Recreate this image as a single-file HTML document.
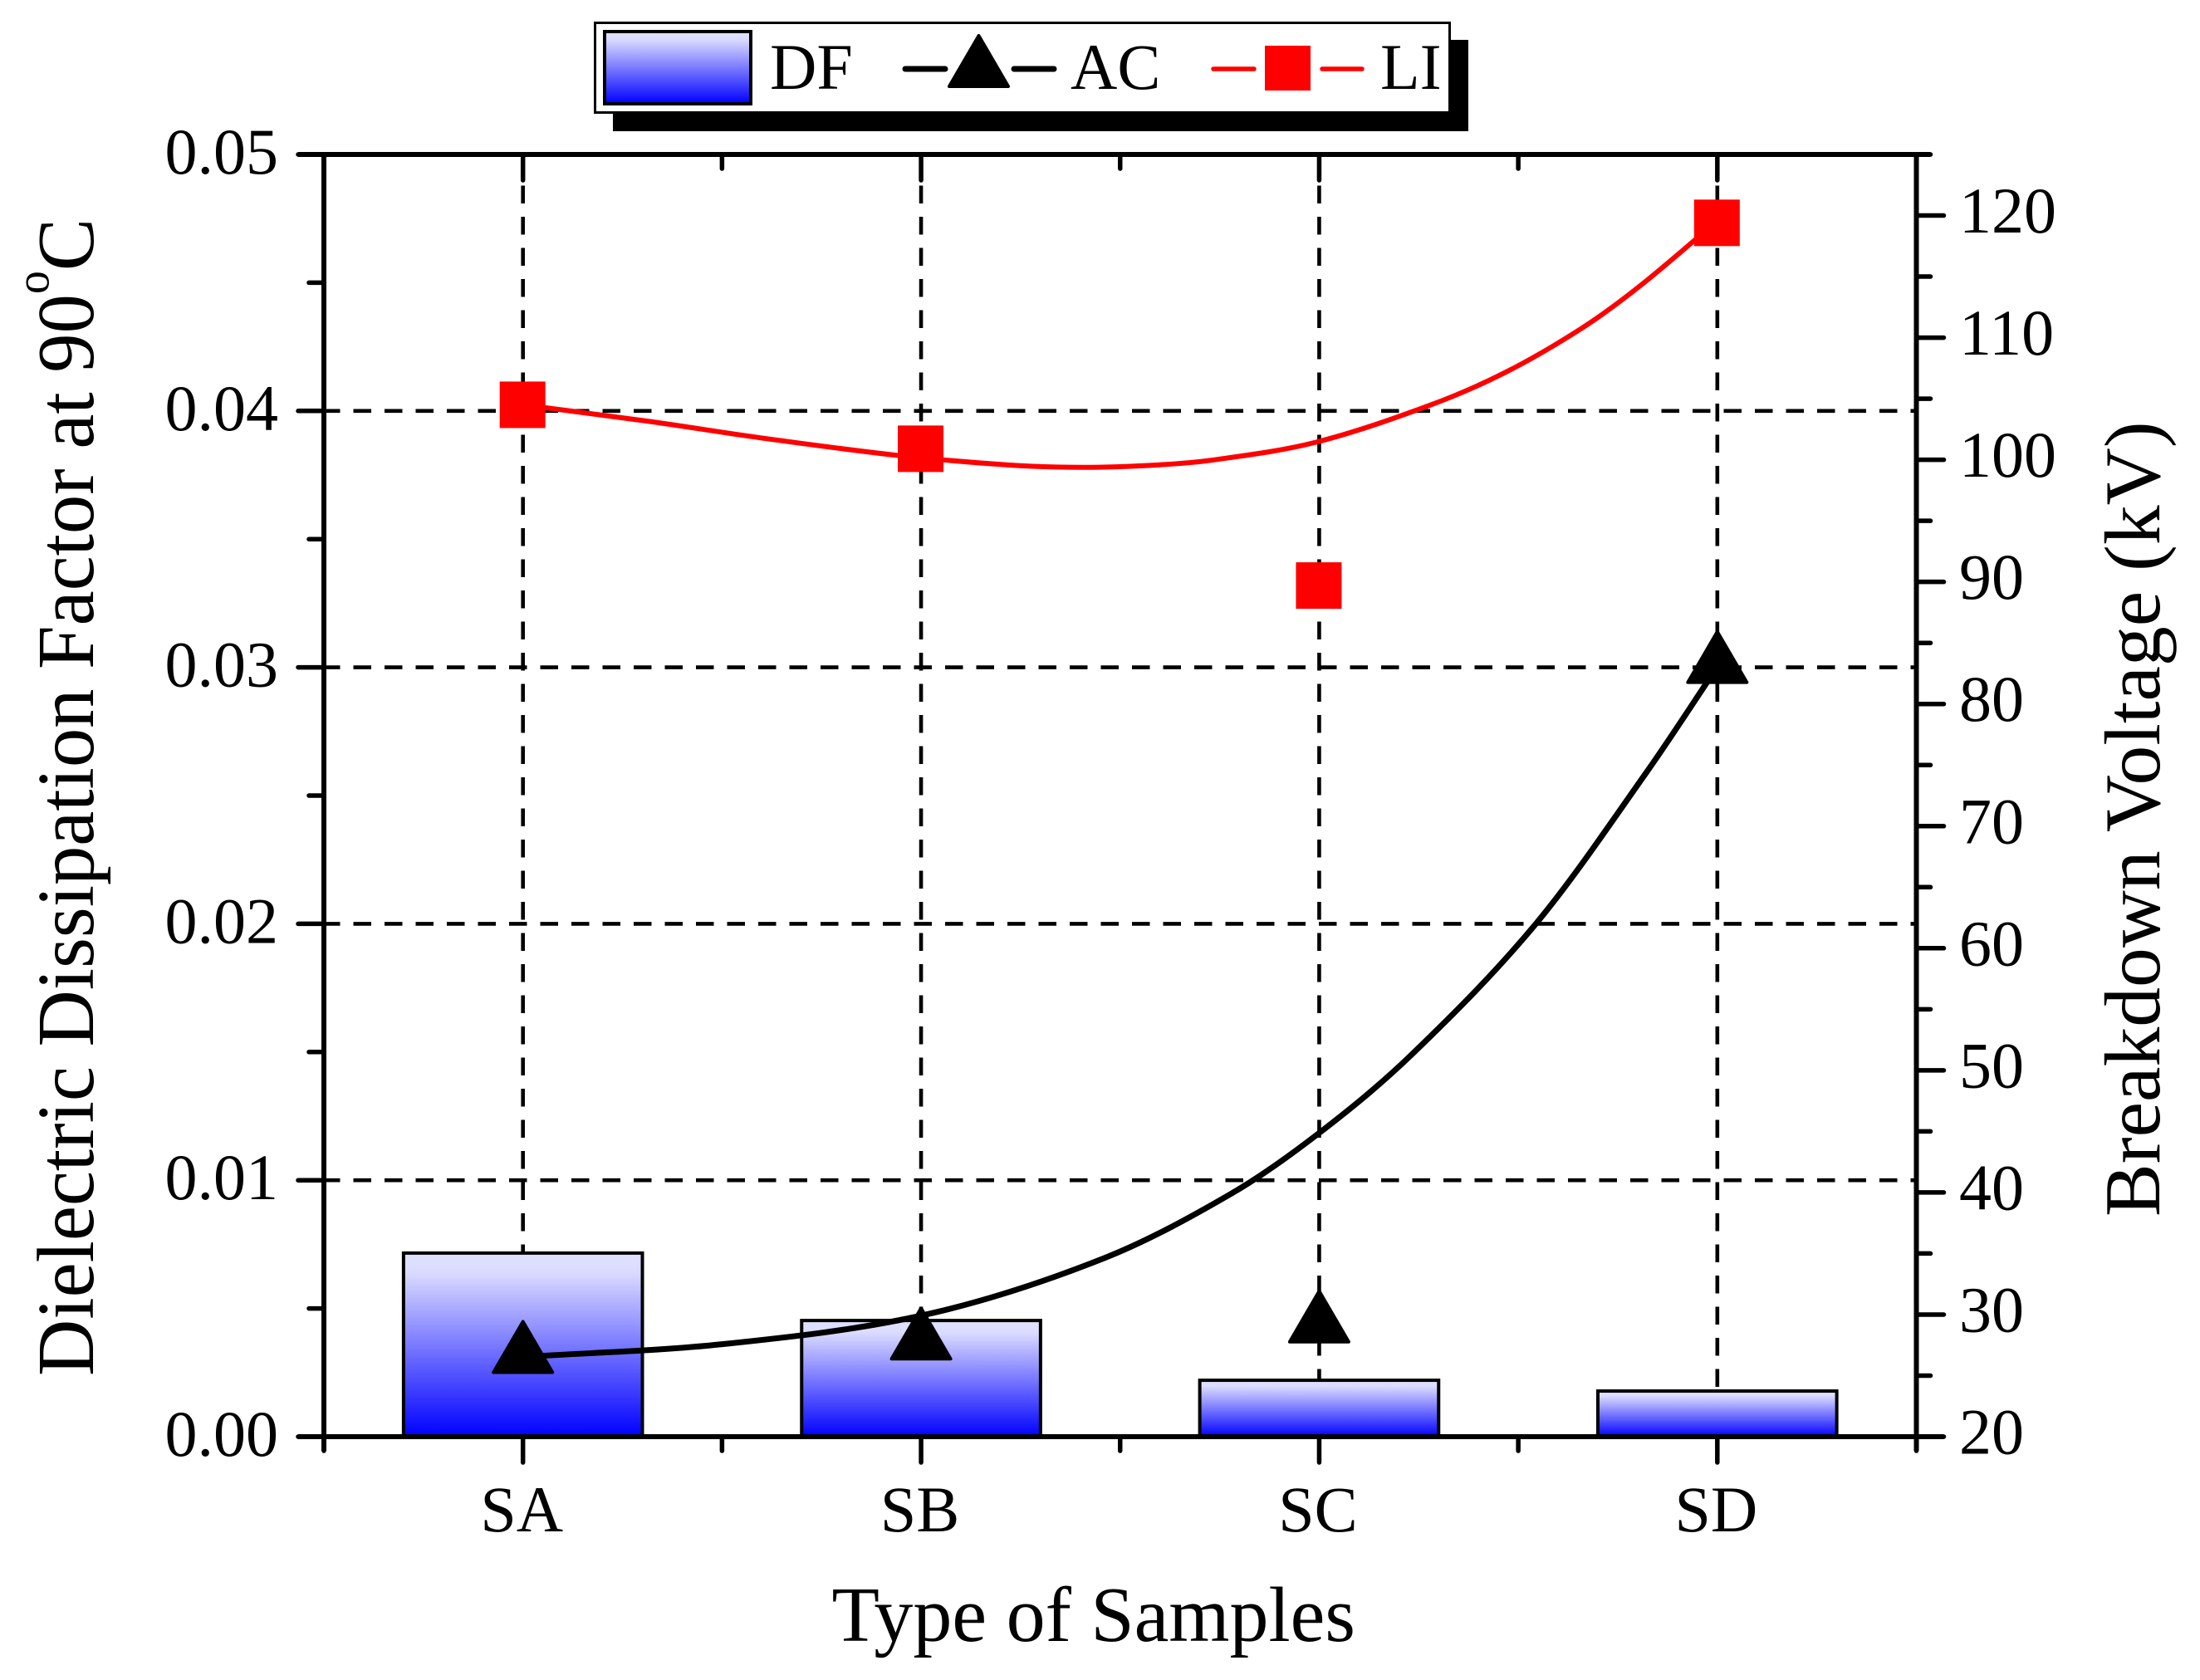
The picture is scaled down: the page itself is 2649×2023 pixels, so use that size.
<!DOCTYPE html>
<html lang="en">
<head>
<meta charset="utf-8">
<title>Dielectric Dissipation Factor and Breakdown Voltage by Sample Type</title>
<style>
html,body{margin:0;padding:0;background:#fff}
svg{display:block}
text{font-family:"Liberation Serif","Times New Roman",serif;fill:#000}
</style>
</head>
<body>
<svg id="chart" xmlns="http://www.w3.org/2000/svg" width="2649" height="2023" viewBox="0 0 2649 2023">
  <defs>
    <linearGradient id="barFill" x1="0" y1="0" x2="0" y2="1">
      <stop offset="0" stop-color="#e0e0ff"/>
      <stop offset="0.1" stop-color="#dcdcff"/>
      <stop offset="1" stop-color="#0000ff"/>
    </linearGradient>
  </defs>
  <rect x="0" y="0" width="2649" height="2023" fill="#fff"/>
  <g id="grid"></g>
  <g id="bars"></g>
  <g id="axes"></g>
  <g id="lines"></g>
  <g id="markers"></g>
  <g id="labels"></g>

  <text x="1001.5" y="1976" font-size="94">Type of Samples</text>
  <text transform="translate(112 1657) rotate(-90) scale(1 1.03)" font-size="94.6">Dielectric Dissipation Factor at 90<tspan dy="-52" font-size="56">o</tspan><tspan dy="52">C</tspan></text>
  <text transform="translate(2600 1465) rotate(-90)" font-size="95.6">Breakdown Voltage (kV)</text>

  <g>
    <rect x="738" y="48" width="1030" height="110" fill="#000"/>
    <rect x="716.5" y="27.5" width="1029" height="108" fill="#fff" stroke="#000" stroke-width="3"/>
    <rect x="728" y="38" width="176" height="87" fill="url(#barFill)" stroke="#000" stroke-width="4"/>
    <text x="927" y="107" font-size="78">DF</text>
    <line x1="1090" y1="83" x2="1138" y2="83" stroke="#000" stroke-width="7" stroke-linecap="round"/>
    <line x1="1221" y1="83" x2="1269" y2="83" stroke="#000" stroke-width="7" stroke-linecap="round"/>
    <polygon points="1178.5,43 1214,104 1143,104" fill="#000" stroke="#000" stroke-width="4" stroke-linejoin="round"/>
    <text x="1289" y="107" font-size="78">AC</text>
    <line x1="1461" y1="83" x2="1510" y2="83" stroke="#f00" stroke-width="5.5" stroke-linecap="round"/>
    <line x1="1592" y1="83" x2="1640" y2="83" stroke="#f00" stroke-width="5.5" stroke-linecap="round"/>
    <rect x="1523" y="55" width="55" height="54" fill="#f00"/>
    <text x="1662" y="107" font-size="78">LI</text>
  </g>
</svg>
<script>
// ---- data ----
const categories = ['SA', 'SB', 'SC', 'SD'];
const dfValues = [0.00716, 0.00453, 0.0022, 0.00178];
const acValues = [26.7, 27.8, 29.2, 83.2];
const liValues = [104.5, 100.9, 89.7, 119.4];
const leftTickLabels = ['0.00', '0.01', '0.02', '0.03', '0.04', '0.05'];
const rightTickLabels = ['20', '30', '40', '50', '60', '70', '80', '90', '100', '110', '120'];
const acCurveCat = [1.0, 1.503, 2.012, 2.46, 2.779, 2.998, 3.232, 3.545, 3.822, 4.0];
const acCurveVolt = [26.53, 27.58, 30.0, 34.62, 39.9, 44.82, 51.28, 62.03, 74.4, 83.04];
const liCurveCat = [1.0, 1.322, 1.598, 1.941, 2.226, 2.406, 2.585, 2.731, 2.99, 3.276, 3.468, 3.66, 3.804, 4.0];
const liCurveVolt = [104.5, 103.12, 101.79, 100.36, 99.56, 99.38, 99.56, 99.97, 101.42, 104.44, 107.16, 110.78, 114.19, 119.56];

// ---- axis functions ----
const PLOT = { left: 390, right: 2307.5, top: 186, bottom: 1730 };
const xScale = c => PLOT.left + (c - 0.5) * (PLOT.right - PLOT.left) / 4;
const yLeft = v => PLOT.bottom - (v / 0.05) * (PLOT.bottom - PLOT.top);
const yRight = v => PLOT.bottom - ((v - 20) / 105) * (PLOT.bottom - PLOT.top);

const NS = 'http://www.w3.org/2000/svg';
function add(parent, tag, attrs) {
  const el = document.createElementNS(NS, tag);
  for (const k in attrs) el.setAttribute(k, attrs[k]);
  document.getElementById(parent).appendChild(el);
  return el;
}
function smoothPath(pts) {
  const n = pts.length;
  const slope = pts.map(function (p, i) {
    const a = pts[Math.max(i - 1, 0)], b = pts[Math.min(i + 1, n - 1)];
    return (b[1] - a[1]) / (b[0] - a[0]);
  });
  let d = 'M' + pts[0][0] + ' ' + pts[0][1];
  for (let i = 0; i < n - 1; i++) {
    const dx = pts[i + 1][0] - pts[i][0];
    d += ' C' + (pts[i][0] + dx / 3) + ' ' + (pts[i][1] + slope[i] * dx / 3) + ' ' +
         (pts[i + 1][0] - dx / 3) + ' ' + (pts[i + 1][1] - slope[i + 1] * dx / 3) + ' ' +
         pts[i + 1][0] + ' ' + pts[i + 1][1];
  }
  return d;
}

// ---- gridlines ----
const gridStyle = { stroke: '#000', 'stroke-width': 4.6, 'stroke-dasharray': '21.5 16', fill: 'none' };
leftTickLabels.forEach(function (label) {
  const v = parseFloat(label);
  if (v === 0 || v === 0.05) return;
  const el = add('grid', 'line', Object.assign({ x1: PLOT.left - 2, x2: PLOT.right, y1: yLeft(v), y2: yLeft(v) }, gridStyle));
  
  
});
categories.forEach(function (name, i) {
  const el = add('grid', 'line', Object.assign({ x1: xScale(i + 1), x2: xScale(i + 1), y1: PLOT.top, y2: PLOT.bottom }, gridStyle));
  
  
});

// ---- bars ----
dfValues.forEach(function (v, i) {
  const w = 0.6 * (PLOT.right - PLOT.left) / 4;
  const el = add('bars', 'rect', {
    x: xScale(i + 1) - w / 2, y: yLeft(v), width: w, height: PLOT.bottom - yLeft(v),
    fill: 'url(#barFill)', stroke: '#000', 'stroke-width': 4
  });
  
  
});

// ---- axes and ticks ----
const axisStyle = { stroke: '#000', 'stroke-width': 6 };
const axisLines = [
  [PLOT.left, PLOT.top - 3, PLOT.left, PLOT.bottom + 17],
  [PLOT.right, PLOT.top - 3, PLOT.right, PLOT.bottom + 17],
  [PLOT.left - 31, PLOT.top, PLOT.right + 17, PLOT.top],
  [PLOT.left - 31, PLOT.bottom, PLOT.right + 33, PLOT.bottom]
];
axisLines.forEach(function (a) {
  const el = add('axes', 'line', Object.assign({ x1: a[0], y1: a[1], x2: a[2], y2: a[3] }, axisStyle));
  
  
});
const tickStyle = { stroke: '#000', 'stroke-width': 5.5, 'stroke-linecap': 'round' };
function tick(x1, y1, x2, y2) {
  const el = add('axes', 'line', Object.assign({ x1: x1, y1: y1, x2: x2, y2: y2 }, tickStyle));
  
  
}
for (let k = 0; k <= 10; k++) {
  const y = yLeft(k * 0.005);
  tick(PLOT.left, y, PLOT.left - (k % 2 ? 18 : 31), y);
}
for (let k = 0; k <= 21; k++) {
  const y = yRight(20 + k * 5);
  tick(PLOT.right, y, PLOT.right + (k % 2 ? 17 : 33), y);
}
for (let k = 0; k <= 8; k++) {
  const x = xScale(0.5 + k / 2);
  const len = k % 2 ? 31 : 17;
  tick(x, PLOT.bottom, x, PLOT.bottom + len);
  tick(x, PLOT.top, x, PLOT.top + len);
}

// ---- curves ----
const acPts = acCurveCat.map((c, i) => [xScale(c), yRight(acCurveVolt[i])]);
const liPts = liCurveCat.map((c, i) => [xScale(c), yRight(liCurveVolt[i])]);
const acLine = add('lines', 'path', { d: smoothPath(acPts), fill: 'none', stroke: '#000', 'stroke-width': 7 });


const liLine = add('lines', 'path', { d: smoothPath(liPts), fill: 'none', stroke: '#f00', 'stroke-width': 6 });



// ---- markers ----
acValues.forEach(function (v, i) {
  const x = xScale(i + 1), y = yRight(v);
  const el = add('markers', 'polygon', {
    points: x + ',' + (y - 40) + ' ' + (x + 35.5) + ',' + (y + 21) + ' ' + (x - 35.5) + ',' + (y + 21),
    fill: '#000', stroke: '#000', 'stroke-width': 4, 'stroke-linejoin': 'round'
  });
  
  
});
liValues.forEach(function (v, i) {
  const x = xScale(i + 1), y = yRight(v);
  const el = add('markers', 'rect', { x: x - 28, y: y - 28, width: 55, height: 56, fill: '#f00' });
  
  
});

// ---- tick labels ----
leftTickLabels.forEach(function (label) {
  const el = add('labels', 'text', { x: 335, y: yLeft(parseFloat(label)) + 23, 'font-size': 78, 'text-anchor': 'end' });
  el.textContent = label;
  
  
});
rightTickLabels.forEach(function (label) {
  const el = add('labels', 'text', { x: 2359, y: yRight(parseFloat(label)) + 20.5, 'font-size': 78 });
  el.textContent = label;
  
  
});
categories.forEach(function (name, i) {
  const el = add('labels', 'text', { x: xScale(i + 1) - 1.5, y: 1844, 'font-size': 78, 'text-anchor': 'middle' });
  el.textContent = name;
  
  
});
</script>
</body>
</html>
